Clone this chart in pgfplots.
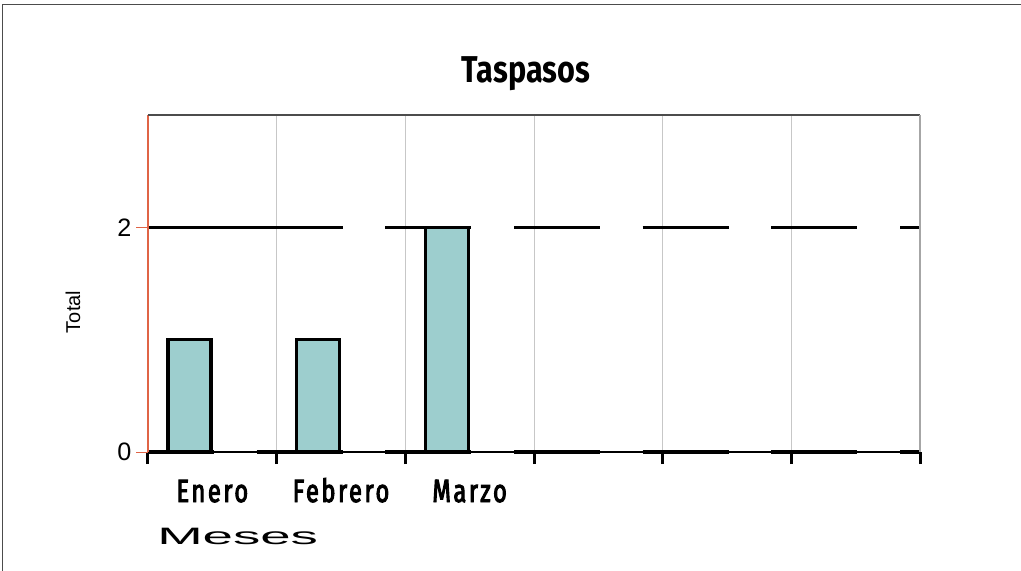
\documentclass[border=0pt]{standalone}
\usepackage{fontspec}
\setmainfont{Liberation Sans}
\newfontfamily\condfont[FakeStretch=0.82]{Fira Sans}
\newfontfamily\labfont[FakeStretch=0.74, LetterSpace=8, FakeBold=3]{Fira Sans}
\newfontfamily\widefont[FakeStretch=2.3]{Liberation Sans}
\usepackage{pgfplots}
\pgfplotsset{compat=1.18}
\definecolor{barfill}{RGB}{157,206,206}
\definecolor{yaxis}{RGB}{224,100,70}

\begin{document}
\begin{tikzpicture}
\useasboundingbox (-111pt,-89.25pt) rectangle (654.75pt,339pt);
% outer frame
\draw[black!70, line width=0.75pt] (-108.75pt,-89.25pt) -- (-108.75pt,335.25pt) -- (654.75pt,335.25pt);
\begin{axis}[
  at={(0pt,0pt)}, anchor=south west,
  scale only axis, width=579pt, height=252.75pt,
  xmin=0, xmax=6, ymin=0, ymax=3,
  axis line style={draw=none},
  xtick={0.5,1.5,2.5},
  xticklabels={Enero,Febrero,Marzo},
  minor xtick={0,1,...,6},
  ytick={0,2},
  xtick pos=bottom, ytick pos=left,
  tick align=outside,
  major tick length=9pt, minor tick length=9pt,
  major x tick style={draw=none},
  minor x tick style={black, line width=2.25pt},
  y tick style={yaxis, line width=0.75pt},
  ymajorgrids=true, xminorgrids=true,
  major grid style={black, line width=2.4pt, dash pattern=on 64.5pt off 32pt, dash phase=15pt},
  minor grid style={black!22, line width=0.75pt},
  xticklabel style={font=\labfont\fontsize{24}{24}\selectfont, anchor=base, yshift=-28.5pt},
  yticklabel style={font=\fontsize{18.9}{19}\selectfont},
  /pgf/number format/assume math mode=true,
  clip=false,
]
\addplot[ybar, bar width=0.335, fill=barfill, draw=black, line width=2.4pt]
  coordinates {(0.3225,1) (1.3225,1) (2.3225,2)};
\addplot[black, line width=2.4pt, forget plot] coordinates {(0.5,2) (0.9,2)};
% axis lines
\draw[black, line width=0.9pt] (axis cs:0,0) -- (axis cs:6,0);
\draw[yaxis, line width=0.9pt] (axis cs:0,0) -- (axis cs:0,3);
\draw[black!70, line width=0.9pt] (axis cs:0,3) -- (axis cs:6,3);
\draw[black!35, line width=0.9pt] (axis cs:6,0) -- (axis cs:6,3);
\end{axis}
\node[anchor=base, font=\condfont\bfseries\fontsize{28}{28}\selectfont] at (283.5pt,276.75pt) {Taspasos};
\node[rotate=90, font=\fontsize{15}{15}\selectfont] at (-56.25pt,105pt) {Total};
\node[anchor=base west, inner sep=0pt, font=\widefont\fontsize{17.8}{18}\selectfont] at (6.75pt,-69.75pt) {Meses};
\end{tikzpicture}
\end{document}
